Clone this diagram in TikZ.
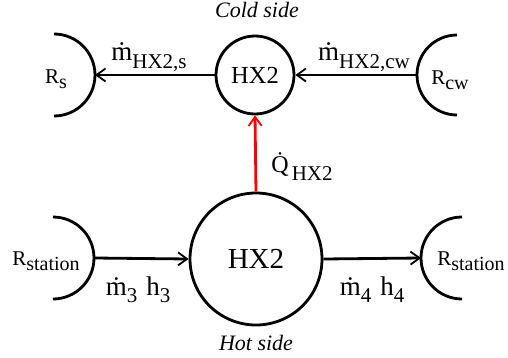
\documentclass[tikz,border=0pt]{standalone}
\usepackage{fontspec}
\setmainfont{Liberation Serif}
\usetikzlibrary{arrows.meta}
% subscript: #1 = drop, #2 = size, #3 = text
\newcommand{\lsub}[3]{\raisebox{-#1}{\fontsize{#2}{#2}\selectfont #3}}
\newcommand{\dotted}[2][0pt]{\ooalign{#2\cr\hidewidth\raisebox{#1}{\char"02D9}\hidewidth\cr}}
\begin{document}
\begin{tikzpicture}[x=1pt,y=1pt,
  rlab/.style={font=\fontsize{21}{24}\selectfont, inner sep=0pt},
  mlab/.style={font=\fontsize{27}{30}\selectfont, inner sep=0pt, anchor=base},
  side/.style={font=\fontsize{22}{24}\selectfont\itshape, inner sep=0pt, anchor=base},
  hx/.style={circle, draw, line width=2.8pt, inner sep=0pt},
  res/.style={line width=2.8pt},
  flow/.style={line width=2.8pt, -{Straight Barb[length=9pt,width=13pt,line width=1.8pt]}},
  heat/.style={flow, red}]
\useasboundingbox (0,0) rectangle (508,357);
% heat exchangers
\node[hx, minimum size=78pt, font=\fontsize{24.5}{26}\selectfont] (hxs) at (255,282) {HX2};
\node[hx, minimum size=132pt, font=\fontsize{29}{31}\selectfont] (hxb) at (256,98) {HX2};
% reservoirs (arcs)
\coordinate (rs) at (54,282);
\coordinate (rsE) at (95,282);
\draw[res] (54,323) arc (90:-90:41pt);
\node[rlab] (rsL) at (56,278) {R\lsub{5pt}{20}{s}};
\coordinate (rcw) at (457,282);
\coordinate (rcwW) at (417,282);
\draw[res] (457,322) arc (90:270:40pt);
\node[rlab] (rcwL) at (450,277) {R\lsub{5pt}{20}{cw}};
\coordinate (rl) at (53,99);
\coordinate (rlE) at (94,99);
\draw[res] (53,140) arc (90:-90:41pt);
\node[rlab] (rlL) at (46,96) {R\lsub{5pt}{20}{station}};
\coordinate (rr) at (462,99);
\coordinate (rrW) at (421,99);
\draw[res] (462,140) arc (90:270:41pt);
\node[rlab] (rrL) at (471,96) {R\lsub{5pt}{20}{station}};
% flows
\draw[flow] (hxs.west) -- (rsE);
\draw[flow] (rcwW) -- (hxs.east);
\draw[flow] (rlE) -- (hxb.west);
\draw[flow] (hxb.east) -- (rrW);
\draw[heat] (hxb.north) -- (hxs.south);
% labels
\node[mlab] (m1) at (149,297) {\dotted{m}\lsub{8pt}{21}{HX2,s}};
\node[mlab] (m2) at (364,297) {\dotted{m}\lsub{8pt}{21}{HX2,cw}};
\node[mlab, font=\fontsize{24}{26}\selectfont] (q) at (302,185) {\dotted[4pt]{Q}\hspace{3pt}\lsub{8pt}{21}{HX2}};
\node[mlab] (m3) at (138,62) {\dotted{m}\lsub{7pt}{21}{3}\hspace{9pt}h\lsub{7pt}{21}{3}};
\node[mlab] (m4) at (372,62) {\dotted{m}\lsub{7pt}{21}{4}\hspace{9pt}h\lsub{7pt}{21}{4}};
\node[side] (cold) at (257,339) {Cold side};
\node[side] (hot) at (256,7) {Hot side};
\end{tikzpicture}
\end{document}
